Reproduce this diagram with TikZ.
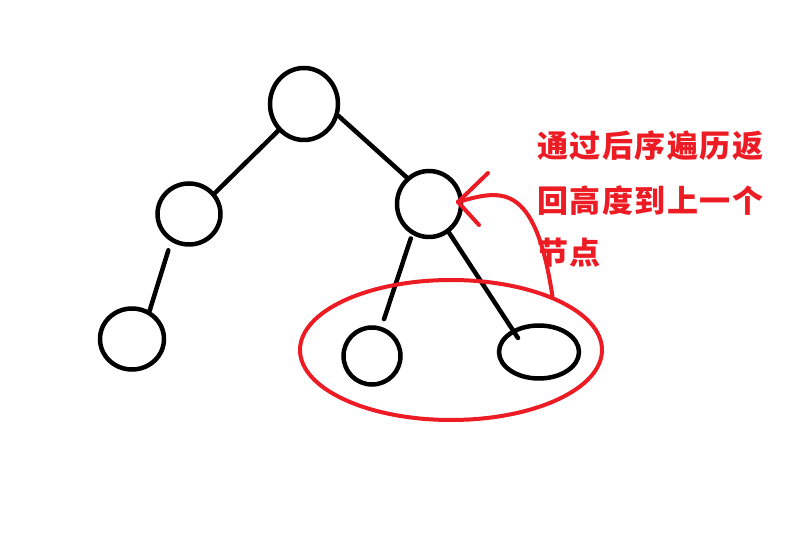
\documentclass[tikz,border=0pt]{standalone}
\usepackage{fontspec}
\newfontfamily\cjk[LetterSpace=5]{Noto Sans CJK SC}
\usetikzlibrary{shapes.geometric}
\definecolor{pred}{HTML}{ED1C24}
\begin{document}
\begin{tikzpicture}[x=1pt,y=-1pt,
  tnode/.style={draw=black,line width=4.5pt,ellipse,inner sep=0pt},
  edge/.style={draw=black,line width=4.5pt,line cap=round},
  redline/.style={draw=pred,line width=4pt,line cap=round},
  lbl/.style={text=pred,font=\cjk\bfseries\fontsize{31pt}{36pt}\selectfont,anchor=west,inner sep=0pt}]
\useasboundingbox (0,0) rectangle (788,534);
\fill[white] (0,0) rectangle (788,534);
% nodes
\node[tnode,minimum width=68pt,minimum height=72pt] (root) at (304,104) {};
\node[tnode,minimum width=63pt,minimum height=61pt] (l) at (189,214) {};
\node[tnode,minimum width=64pt,minimum height=66pt] (r) at (429,204) {};
\node[tnode,minimum width=64pt,minimum height=61pt] (ll) at (132,339) {};
\node[tnode,minimum width=57pt,minimum height=57pt] (rl) at (372,356) {};
\node[tnode,minimum width=80pt,minimum height=53pt] (rr) at (539,352) {};
\coordinate (rrin) at (518,338);
% edges
\draw[edge] (root.226) -- (l.39);
\draw[edge] (root.341) -- (r.130);
\draw[edge,shorten <=9pt] (l.237) -- (ll.58);
\draw[edge,shorten <=4pt,shorten >=8pt] (r.241) -- (rl.72);
\draw[edge] (r.305) -- (rrin);
% red annotation
\node[draw=pred,line width=4pt,ellipse,minimum width=302pt,minimum height=140pt,inner sep=0pt] (grp) at (451,350) {};
\coordinate (tip) at (458,202);
\draw[redline] (grp.28) .. controls (535,180) and (500,190) .. (tip);
\draw[redline] (tip) -- ++(30,-29);
\draw[redline] (tip) -- ++(21,23);
\node[lbl] (t1) at (537,146) {通过后序遍历返};
\node[lbl] (t2) at (537,201) {回高度到上一个};
\node[lbl] (t3) at (537,253) {节点};
\end{tikzpicture}
\end{document}
